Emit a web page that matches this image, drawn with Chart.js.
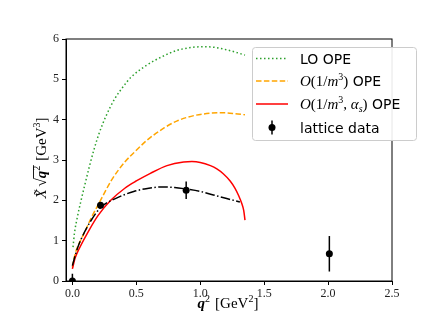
<!DOCTYPE html>
<html>
<head>
<meta charset="utf-8">
<script src="https://cdn.jsdelivr.net/npm/chart.js@4.4.0/dist/chart.umd.min.js"></script>
<style>
    body { margin: 0; background: #fff; }
    #wrap { width: 436px; height: 327px; }
</style>
</head>
<body>
<div id="wrap"><canvas id="opeChart" width="436" height="327"></canvas></div>
<script>
// values
const xTicks = [0.0, 0.5, 1.0, 1.5, 2.0, 2.5];
const yTicks = [0, 1, 2, 3, 4, 5, 6];

const loQ2 = [0.005, 0.016, 0.04, 0.068, 0.1, 0.133, 0.17, 0.21, 0.263, 0.33, 0.4, 0.458, 0.576, 0.7, 0.82, 0.93, 1.03, 1.12, 1.21, 1.28, 1.35];
const loVals = [0.84, 1.18, 1.6, 2.0, 2.42, 2.84, 3.27, 3.67, 4.09, 4.51, 4.83, 5.05, 5.34, 5.56, 5.72, 5.79, 5.81, 5.79, 5.73, 5.67, 5.6];

const ope3Q2 = [0.0, 0.01, 0.03, 0.06, 0.094, 0.15, 0.22, 0.31, 0.41, 0.5, 0.576, 0.72, 0.82, 0.95, 1.08, 1.18, 1.27, 1.35];
const ope3Vals = [0.34, 0.52, 0.76, 0.98, 1.2, 1.58, 2.0, 2.52, 2.95, 3.24, 3.47, 3.8, 3.97, 4.1, 4.16, 4.17, 4.15, 4.12];

const opeAsQ2 = [0.0, 0.02, 0.05, 0.12, 0.2, 0.3, 0.41, 0.5, 0.61, 0.74, 0.87, 0.935, 1.0, 1.08, 1.13, 1.18, 1.234, 1.27, 1.3, 1.325, 1.34, 1.35];
const opeAsVals = [0.3, 0.56, 0.78, 1.2, 1.62, 2.0, 2.3, 2.48, 2.67, 2.86, 2.95, 2.96, 2.94, 2.86, 2.78, 2.66, 2.48, 2.31, 2.12, 1.92, 1.75, 1.51];

const fitQ2 = [0.0, 0.03, 0.07, 0.146, 0.22, 0.26, 0.3, 0.406, 0.48, 0.56, 0.69, 0.8, 0.89, 1.0, 1.13, 1.2, 1.31];
const fitVals = [0.38, 0.72, 1.05, 1.5, 1.82, 1.92, 1.99, 2.14, 2.22, 2.28, 2.33, 2.32, 2.28, 2.22, 2.11, 2.05, 1.96];

const latQ2 = [0.0, 0.22, 0.89, 2.01];
const latVals = [0.0, 1.88, 2.25, 0.675];
const latErr = [0.18, 0.08, 0.22, 0.44];

const SERIF = "'Liberation Serif', serif";
const SANS = "'DejaVu Sans', sans-serif";

function pts(xs, ys) {
    return xs.map((x, i) => ({ x: x, y: ys[i] }));
}

// draws a row of text pieces with their own fonts
function drawRuns(ctx, runs, x, y, align) {
    let total = 0;
    runs.forEach(r => { ctx.font = r.font; r.w = ctx.measureText(r.t).width; total += r.w + (r.gap || 0); });
    let cx = align === "center" ? x - total / 2 : x;
    runs.forEach(r => {
        ctx.font = r.font;
        ctx.fillText(r.t, cx, y + (r.dy || 0));
        r.x0 = cx;
        cx += r.w + (r.gap || 0);
    });
    return runs;
}

const decorPlugin = {
    id: "decor",
    afterDatasetsDraw(chart) {
        const { ctx, chartArea: a, scales: { x, y } } = chart;
        // error bars
        ctx.save();
        ctx.beginPath();
        ctx.rect(a.left, a.top, a.right - a.left, a.bottom - a.top);
        ctx.clip();
        ctx.strokeStyle = "#000";
        ctx.lineWidth = 1.5;
        latQ2.forEach((q, i) => {
            const px = x.getPixelForValue(q);
            ctx.beginPath();
            ctx.moveTo(px, y.getPixelForValue(latVals[i] - latErr[i]));
            ctx.lineTo(px, y.getPixelForValue(latVals[i] + latErr[i]));
            ctx.stroke();
        });
        ctx.restore();
    },
    afterDraw(chart) {
        const { ctx, chartArea: a } = chart;
        ctx.save();
        // frame
        ctx.strokeStyle = "#000";
        ctx.lineWidth = 1;
        ctx.strokeRect(a.left, a.top, a.right - a.left, a.bottom - a.top);

        ctx.fillStyle = "#000";
        ctx.textBaseline = "alphabetic";

        // x title
        drawRuns(ctx, [
            { t: "q", font: "bold italic 15px " + SERIF },
            { t: "2", font: "10px " + SERIF, dy: -6, gap: 5 },
            { t: "[GeV", font: "15px " + SERIF },
            { t: "2", font: "10px " + SERIF, dy: -6 },
            { t: "]", font: "15px " + SERIF }
        ], 228, 308, "center");

        // y title (rotated)
        ctx.save();
        ctx.translate(41, 158);
        ctx.rotate(-Math.PI / 2);
        const yr = drawRuns(ctx, [
            { t: "X\u0303", font: "italic 15px " + SERIF, gap: 3 },
            { t: "\u221A", font: "15px " + SERIF },
            { t: "q", font: "bold italic 15px " + SERIF },
            { t: "2", font: "10px " + SERIF, dy: -6, gap: 5 },
            { t: "[GeV", font: "15px " + SERIF },
            { t: "3", font: "10px " + SERIF, dy: -6 },
            { t: "]", font: "15px " + SERIF }
        ], 0, 5, "center");
        ctx.lineWidth = 0.9;
        ctx.beginPath();
        ctx.moveTo(yr[2].x0 - 0.5, 5 - 12.5);
        ctx.lineTo(yr[3].x0 + yr[3].w + 0.5, 5 - 12.5);
        ctx.stroke();
        ctx.restore();

        // legend
        const lx = 252, ly = 47, lw = 164, lh = 93;
        ctx.fillStyle = "rgba(255,255,255,0.9)";
        ctx.strokeStyle = "#cccccc";
        ctx.lineWidth = 1;
        ctx.beginPath();
        ctx.roundRect(lx + 0.5, ly + 0.5, lw, lh, 3);
        ctx.fill();
        ctx.stroke();

        const rows = [58.5, 81, 104, 127.5];
        const styles = [
            { c: "#2ca02c", d: [1.5, 2.5] },
            { c: "#ffa500", d: [5.5, 2.4] },
            { c: "#ff0000", d: [] }
        ];
        styles.forEach((s, i) => {
            ctx.strokeStyle = s.c;
            ctx.lineWidth = 1.5;
            ctx.setLineDash(s.d);
            ctx.beginPath();
            ctx.moveTo(256, rows[i]);
            ctx.lineTo(288, rows[i]);
            ctx.stroke();
        });
        ctx.setLineDash([]);
        ctx.strokeStyle = "#000";
        ctx.beginPath();
        ctx.moveTo(272, rows[3] - 7);
        ctx.lineTo(272, rows[3] + 7);
        ctx.stroke();
        ctx.fillStyle = "#000";
        ctx.beginPath();
        ctx.arc(272, rows[3], 3.5, 0, Math.PI * 2);
        ctx.fill();

        const tx = 300;
        drawRuns(ctx, [{ t: "LO OPE", font: "14px " + SANS }], tx, rows[0] + 5);
        drawRuns(ctx, [
            { t: "O", font: "italic 15px " + SERIF },
            { t: "(1/", font: "15px " + SERIF },
            { t: "m", font: "italic 15px " + SERIF },
            { t: "3", font: "10px " + SERIF, dy: -6 },
            { t: ")", font: "15px " + SERIF },
            { t: " OPE", font: "14px " + SANS }
        ], tx, rows[1] + 5);
        drawRuns(ctx, [
            { t: "O", font: "italic 15px " + SERIF },
            { t: "(1/", font: "15px " + SERIF },
            { t: "m", font: "italic 15px " + SERIF },
            { t: "3", font: "10px " + SERIF, dy: -6 },
            { t: ", ", font: "15px " + SERIF },
            { t: "\u03B1", font: "italic 15px " + SERIF },
            { t: "s", font: "italic 10px " + SERIF, dy: 3 },
            { t: ")", font: "15px " + SERIF },
            { t: " OPE", font: "14px " + SANS }
        ], tx, rows[2] + 5);
        drawRuns(ctx, [{ t: "lattice data", font: "14px " + SANS }], tx, rows[3] + 5);
        ctx.restore();
    }
};

const curve = (data, color, dash) => ({
    data: data,
    showLine: true,
    borderColor: color,
    borderWidth: 1.5,
    borderDash: dash,
    pointRadius: 0,
    fill: false,
    tension: 0.4,
    cubicInterpolationMode: "monotone"
});

const ctx = document.getElementById("opeChart").getContext("2d");
new Chart(ctx, {
    type: "scatter",
    data: {
        datasets: [
            {
                data: pts(latQ2, latVals),
                pointRadius: 3.5,
                pointBackgroundColor: "#000",
                pointBorderColor: "#000",
                pointBorderWidth: 0,
                showLine: false
            },
            curve(pts(fitQ2, fitVals), "#000", [9.6, 2.4, 1.5, 2.4]),
            curve(pts(opeAsQ2, opeAsVals), "#ff0000", []),
            curve(pts(ope3Q2, ope3Vals), "#ffa500", [5.5, 2.4]),
            curve(pts(loQ2, loVals), "#2ca02c", [1.5, 2.5])
        ]
    },
    options: {
        responsive: false,
        animation: false,
        devicePixelRatio: 1,
        layout: { padding: { left: 36, top: 39, right: 44, bottom: 26 } },
        plugins: { legend: { display: false }, tooltip: { enabled: false } },
        scales: {
            x: {
                type: "linear",
                min: -0.05,
                max: 2.5,
                afterBuildTicks: s => { s.ticks = xTicks.map(v => ({ value: v })); },
                afterFit: s => { s.height = 20; },
                ticks: {
                    callback: v => v.toFixed(1),
                    font: { family: "Liberation Serif", size: 12 },
                    color: "#222",
                    padding: 2,
                    maxRotation: 0
                },
                grid: { drawOnChartArea: false, drawTicks: true, tickLength: 4, color: "#000" },
                border: { display: true, color: "#000", width: 1 }
            },
            y: {
                min: 0,
                max: 6,
                afterBuildTicks: s => { s.ticks = yTicks.map(v => ({ value: v })); },
                afterFit: s => { s.width = 30; },
                ticks: {
                    callback: v => String(v),
                    font: { family: "Liberation Serif", size: 12 },
                    color: "#222",
                    padding: 3
                },
                grid: { drawOnChartArea: false, drawTicks: true, tickLength: 4, color: "#000" },
                border: { display: true, color: "#000", width: 1 }
            }
        }
    },
    plugins: [decorPlugin]
});
</script>
</body>
</html>
